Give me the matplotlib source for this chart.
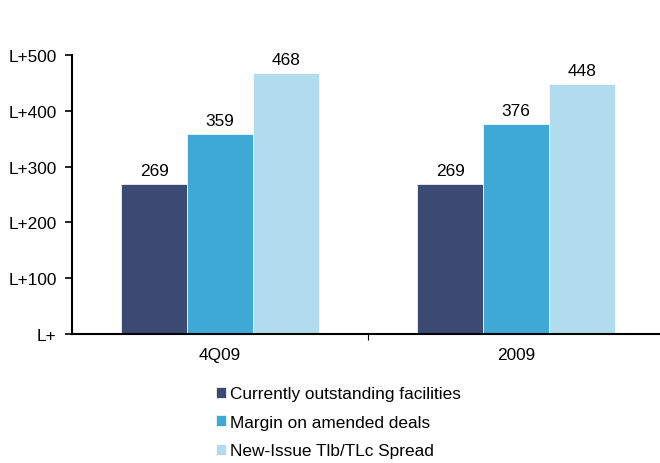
import numpy as np
import matplotlib.pyplot as plt

plt.rcParams['font.family'] = ['Liberation Sans', 'DejaVu Sans']

periods = ['4Q09', '2009']
series = ['Currently outstanding facilities', 'Margin on amended deals',
          'New-Issue Tlb/TLc Spread']
outstanding = [269, 269]
amended = [359, 376]
new_issue = [468, 448]
colors = ['#3B4A72', '#3FA9D6', '#B1DCEE']
fs = 12.4

fig = plt.figure(figsize=(6.6, 4.64), dpi=100)
ax = fig.add_axes([0.109, 0.278, 0.891, 0.601])

x = np.arange(len(periods))
w = 0.222
bars = []
for i, (vals, c, name) in enumerate(zip([outstanding, amended, new_issue], colors, series)):
    b = ax.bar(x + (i - 1) * w, vals, w, color=c, edgecolor='white', linewidth=0.5, label=name)
    bars.append(b)
    for xi, v in zip(x + (i - 1) * w, vals):
        ax.text(xi, v + 11, str(v), ha='center', va='bottom', fontsize=fs)

ax.set_xlim(-0.5, 1.486)
ax.set_ylim(0, 500)
ax.set_yticks(range(0, 501, 100))
ax.set_yticklabels(['L+'] + ['L+%d' % v for v in range(100, 501, 100)], fontsize=fs)

# category boundaries as ticks, names as minor labels
ax.set_xticks([0.5])
ax.set_xticklabels([])
ax.set_xticks(x, minor=True)
ax.set_xticklabels(periods, minor=True, fontsize=fs)
ax.tick_params(axis='x', which='major', length=4, width=0.8)
ax.tick_params(axis='x', which='minor', length=0, pad=9)
ax.tick_params(axis='y', length=5, width=1.2, pad=6)

for s in ['top', 'right']:
    ax.spines[s].set_visible(False)
ax.spines['left'].set_linewidth(1.5)
ax.spines['bottom'].set_linewidth(1.5)

fig.legend(handles=bars, loc='upper left', bbox_to_anchor=(0.327, 0.165),
           frameon=False, fontsize=fs, handlelength=0.58, handleheight=0.58,
           handletextpad=0.22, labelspacing=0.78, borderpad=0, borderaxespad=0)

fig.savefig('out.png', dpi=100)
